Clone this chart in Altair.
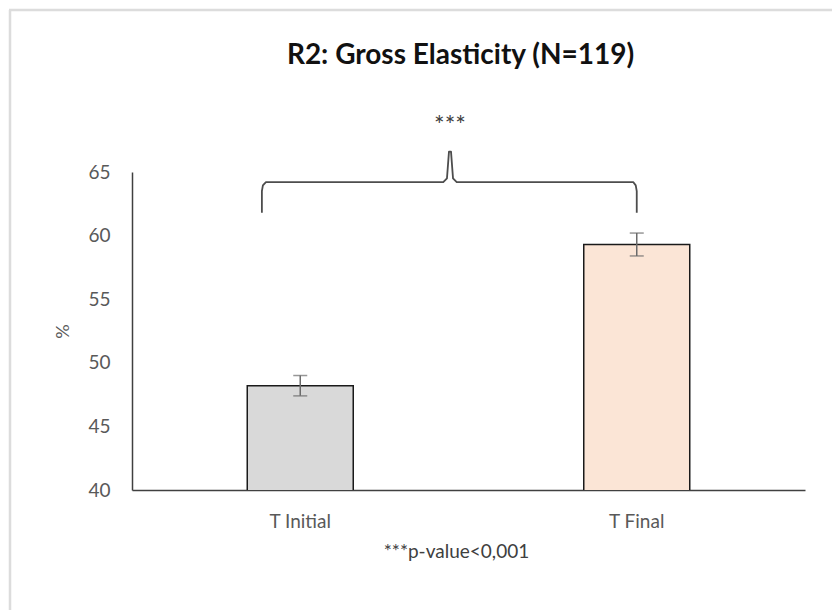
import altair as alt
import pandas as pd

# Group means and standard errors (%)
groups = ["T Initial", "T Final"]
means = [48.2, 59.3]
errors = [0.8, 0.9]
fills = ["#D9D9D9", "#FBE5D6"]

# Significance bracket joining the two groups (x on a 0-2 track, y in %)
bracket_x = [0.386, 0.386, 0.389, 0.398, 0.925, 0.936, 0.942,
             0.948, 0.954, 0.965, 1.490, 1.497, 1.500, 1.500]
bracket_y = [61.8, 63.5, 63.95, 64.2, 64.2, 64.5, 66.6,
             66.6, 64.5, 64.2, 64.2, 63.95, 63.5, 61.8]
star_label = "***"
star_x = 0.945
star_y = 68.6

FONT = "Lato"
GREY = "#595959"

bars_df = pd.DataFrame({
    "group": groups,
    "mean": means,
    "lo": [m - e for m, e in zip(means, errors)],
    "hi": [m + e for m, e in zip(means, errors)],
    "fill": fills,
})
bracket_df = pd.DataFrame({"x": bracket_x, "y": bracket_y, "k": list(range(len(bracket_x)))})
star_df = pd.DataFrame({"x": [star_x], "y": [star_y], "t": [star_label]})

y_scale = alt.Scale(domain=[40, 65], nice=False, zero=False)
x_band = alt.Scale(domain=groups, paddingInner=0.685, paddingOuter=0.3425)
x_track = alt.Scale(domain=[0, 2], nice=False)

base = alt.Chart(bars_df)

bars = base.mark_bar(stroke="#1a1a1a", strokeWidth=1.5, clip=True).encode(
    x=alt.X("group:N", scale=x_band, sort=groups,
            axis=alt.Axis(title="***p-value<0,001", labelAngle=0, ticks=False,
                          domainColor="#404040", domainWidth=1.5,
                          labelFont=FONT, labelFontSize=19, labelColor=GREY,
                          labelPadding=22,
                          titleFont=FONT, titleFontSize=19, titleColor="#404040",
                          titleFontWeight="normal", titlePadding=11, titleX=324)),
    y=alt.Y("mean:Q", scale=y_scale,
            axis=alt.Axis(title="%", values=[40, 45, 50, 55, 60, 65], ticks=False,
                          grid=False, domainColor="#404040", domainWidth=1.5,
                          labelFont=FONT, labelFontSize=19, labelColor=GREY,
                          labelPadding=22,
                          titleFont=FONT, titleFontSize=18, titleColor=GREY,
                          titleFontWeight="normal", titlePadding=15)),
    fill=alt.Fill("fill:N", scale=None),
)

err = base.mark_errorbar(color="#6b6b6b", thickness=1.5, ticks=alt.MarkConfig(size=14)).encode(
    x=alt.X("group:N", scale=x_band, sort=groups, axis=None),
    y=alt.Y("lo:Q", scale=y_scale, title="%"),
    y2="hi:Q",
)

bracket = alt.Chart(bracket_df).mark_line(
    color="#4d4d4d", strokeWidth=1.8, clip=False, strokeJoin="round"
).encode(
    x=alt.X("x:Q", scale=x_track, axis=None),
    y=alt.Y("y:Q", scale=y_scale, title="%"),
    order="k:Q",
)

stars = alt.Chart(star_df).mark_text(
    font=FONT, fontSize=25, color="#404040", clip=False
).encode(
    x=alt.X("x:Q", scale=x_track, axis=None),
    y=alt.Y("y:Q", scale=y_scale, title="%"),
    text="t:N",
)

# light frame along the top and left edges of the figure
frame_df = pd.DataFrame({"a": [0]})
frame_left = alt.Chart(frame_df).mark_rule(color="#DCDCDC", strokeWidth=2.5, clip=False).encode(
    x=alt.value(-122), y=alt.value(-162), y2=alt.value(440))
frame_top = alt.Chart(frame_df).mark_rule(color="#DCDCDC", strokeWidth=2.5, clip=False).encode(
    x=alt.value(-123), x2=alt.value(702), y=alt.value(-162))

chart = alt.layer(
    frame_left, frame_top, bars, err, bracket, stars
).resolve_scale(x="independent").properties(
    width=673,
    height=318,
    padding={"left": 132, "top": 172, "right": 27, "bottom": 120},
    autosize=alt.AutoSizeParams(type="none"),
    title=alt.TitleParams("R2: Gross Elasticity (N=119)", font=FONT, fontSize=28,
                          fontWeight="bold", color="#111111", anchor="middle",
                          offset=10, dy=71, dx=-8),
).configure(background="white").configure_view(stroke=None)

chart.save("out.html", embed_options={"renderer": "svg", "actions": False})
